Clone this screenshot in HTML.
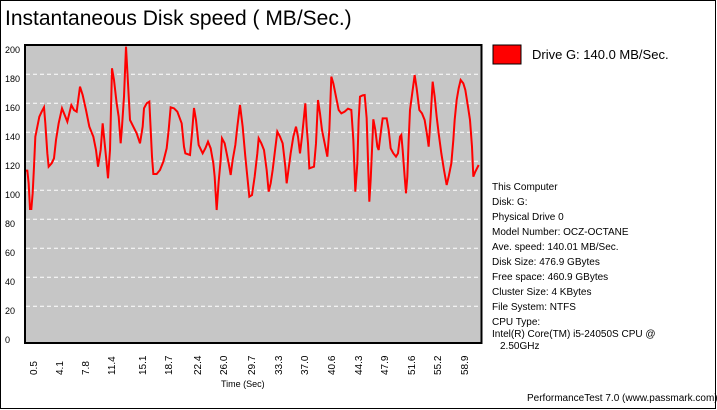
<!DOCTYPE html>
<html><head><meta charset="utf-8"><style>
body{margin:0;background:#fff}
svg{display:block}
text{font-family:"Liberation Sans",Arial,sans-serif;fill:#000}
</style></head><body>
<svg width="717" height="410" viewBox="0 0 717 410" xmlns="http://www.w3.org/2000/svg">
<rect x="0.5" y="0.5" width="715" height="408" fill="#fff" stroke="#000"/>
<text x="5" y="25" font-size="21">Instantaneous Disk speed ( MB/Sec.)</text>
<rect x="25" y="45" width="456.5" height="298" fill="#c6c6c6" stroke="#000" stroke-width="2"/>
<g stroke="#fff" stroke-dasharray="4,3" stroke-width="1">
<line x1="26" x2="480" y1="74.3" y2="74.3"/><line x1="26" x2="480" y1="103.3" y2="103.3"/>
<line x1="26" x2="480" y1="132.3" y2="132.3"/><line x1="26" x2="480" y1="161.3" y2="161.3"/>
<line x1="26" x2="480" y1="190.3" y2="190.3"/><line x1="26" x2="480" y1="219.3" y2="219.3"/>
<line x1="26" x2="480" y1="248.3" y2="248.3"/><line x1="26" x2="480" y1="277.3" y2="277.3"/>
<line x1="26" x2="480" y1="306.3" y2="306.3"/>
</g>
<g font-size="9">
<text x="5" y="53">200</text><text x="5" y="82">180</text><text x="5" y="111">160</text><text x="5" y="140">140</text>
<text x="5" y="169">120</text><text x="5" y="198">100</text><text x="5" y="227">80</text><text x="5" y="256">60</text>
<text x="5" y="285">40</text><text x="5" y="314">20</text><text x="5" y="343">0</text>
</g>
<g stroke="#f00" stroke-width="2" fill="none" stroke-linejoin="miter">
<polyline vector-effect="non-scaling-stroke" transform="translate(0,30) scale(0.33333)" points="78,422 82,422 86,460 90,537 94,537 98,490 102,410 106,320 112,290 118,260 125,245 132,232 136,280 142,370 146,410 155,400 162,385 168,330 176,280 186,235 196,260 202,275 208,250 214,225 222,240 230,245 240,170 248,195 258,240 268,290 280,320 288,360 294,410 302,360 308,280 314,340 318,380 324,445 330,360 336,115 342,150 350,220 356,260 362,340 366,290 372,200 378,50 384,160 390,270 400,290 410,310 420,340 428,290 432,235 440,220 448,215 456,380 460,432 470,432 480,420 490,395 500,355 506,300 512,232 522,235 532,245 545,280 552,350 556,370 570,375 576,310 582,234 588,270 596,345 608,370 616,355 624,335 632,355 640,400 644,440 650,540 656,455 662,390 666,325 674,340 686,400 692,435 698,390 706,345 712,290 720,225 728,290 736,380 742,440 748,500 756,495 764,440 772,370 776,325 784,340 792,360 800,420 806,485 812,460 818,420 824,370 832,305 840,320 848,340 856,410 860,460 864,430 872,370 880,320 888,290 894,320 900,370 906,320 912,260 916,220 920,290 924,340 928,415 942,410 948,340 954,210 960,250 966,300 974,340 982,380 988,300 994,140 1000,160 1008,200 1016,240 1024,250 1034,245 1044,236 1054,240 1060,330 1066,485 1072,400 1076,270 1080,200 1088,196 1094,195 1100,265 1104,390 1108,515 1112,450 1116,360 1120,268 1126,300 1132,350 1136,360 1142,310 1148,265 1160,265 1166,300 1172,355 1180,370 1188,380 1194,370 1200,320 1204,315 1208,360 1214,440 1218,490 1222,440 1226,330 1230,240 1238,180 1244,135 1250,175 1258,240 1266,250 1274,270 1282,320 1286,350 1292,260 1298,155 1304,200 1310,260 1316,310 1324,370 1332,420 1340,465 1346,440 1354,400 1360,330 1364,270 1370,210 1376,175 1382,150 1390,160 1396,180 1404,230 1410,270 1416,350 1420,440 1426,425 1436,405"/>
</g>
<g font-size="10">
<text transform="translate(37,375) rotate(-90)">0.5</text>
<text transform="translate(63,375) rotate(-90)">4.1</text>
<text transform="translate(89,375) rotate(-90)">7.8</text>
<text transform="translate(115,375) rotate(-90)">11.4</text>
<text transform="translate(146,375) rotate(-90)">15.1</text>
<text transform="translate(172,375) rotate(-90)">18.7</text>
<text transform="translate(201,375) rotate(-90)">22.4</text>
<text transform="translate(227,375) rotate(-90)">26.0</text>
<text transform="translate(255,375) rotate(-90)">29.7</text>
<text transform="translate(282,375) rotate(-90)">33.3</text>
<text transform="translate(308,375) rotate(-90)">37.0</text>
<text transform="translate(335,375) rotate(-90)">40.6</text>
<text transform="translate(362,375) rotate(-90)">44.3</text>
<text transform="translate(388,375) rotate(-90)">47.9</text>
<text transform="translate(415,375) rotate(-90)">51.6</text>
<text transform="translate(441,375) rotate(-90)">55.2</text>
<text transform="translate(468,375) rotate(-90)">58.9</text>
</g>
<text x="221" y="387" font-size="9">Time (Sec)</text>
<rect x="493" y="45" width="28" height="19" fill="#f00" stroke="#000"/>
<text x="532" y="59" font-size="13">Drive G: 140.0 MB/Sec.</text>
<g font-size="10">
<text x="492" y="190">This Computer</text>
<text x="492" y="205">Disk: G:</text>
<text x="492" y="220">Physical Drive 0</text>
<text x="492" y="235">Model Number: OCZ-OCTANE</text>
<text x="492" y="250">Ave. speed: 140.01 MB/Sec.</text>
<text x="492" y="265">Disk Size: 476.9 GBytes</text>
<text x="492" y="280">Free space: 460.9 GBytes</text>
<text x="492" y="295">Cluster Size: 4 KBytes</text>
<text x="492" y="310">File System: NTFS</text>
<text x="492" y="325">CPU Type:</text>
<text x="492" y="337">Intel(R) Core(TM) i5-24050S CPU @</text>
<text x="500" y="349">2.50GHz</text>
<text x="527" y="401">PerformanceTest 7.0 (www.passmark.com)</text>
</g>
</svg>
</body></html>
